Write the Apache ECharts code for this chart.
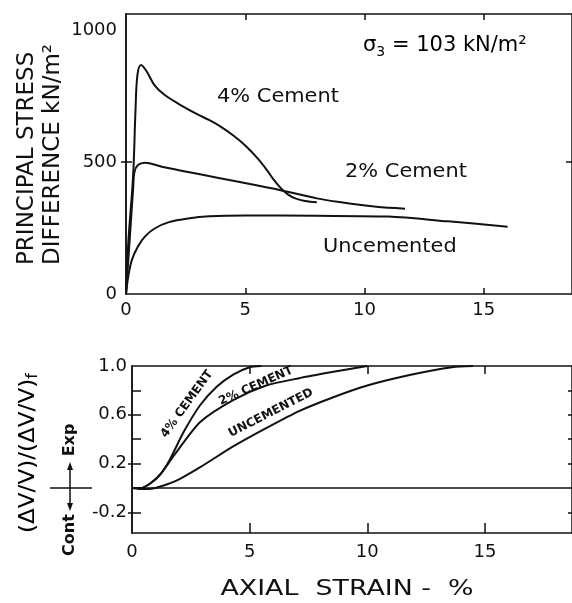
<!DOCTYPE html>
<html>
<head>
<meta charset="utf-8">
<script src="https://cdn.jsdelivr.net/npm/echarts@6/dist/echarts.min.js"></script>
<style>
  html, body { margin: 0; padding: 0; background: #fff; }
  #chart { width: 572px; height: 603px; }
</style>
</head>
<body>
<div id="chart"></div>
<script>
// top panel: principal stress difference (kN/m2) vs axial strain (%)
const stress4 = [[0,0],[0.1,200],[0.3,450],[0.4,700],[0.48,830],[0.63,867],[0.85,845],[1.2,790],[1.6,755],[2.2,720],[3.0,680],[3.5,658],[4.0,632],[4.5,600],[5.0,562],[5.5,515],[5.9,470],[6.2,432],[6.5,400],[6.8,376],[7.1,362],[7.5,352],[8.0,347]];
const stress2 = [[0,0],[0.15,200],[0.3,400],[0.35,460],[0.5,488],[0.8,497],[1.5,482],[3,455],[4.77,424],[6.44,394],[8,362],[8.95,348],[10.5,330],[11.7,323]];
const stressUn = [[0,0],[0.1,70],[0.25,130],[0.5,180],[0.8,218],[1.2,248],[1.8,272],[2.6,286],[3.5,294],[5,297],[8,296],[11,293],[13.5,275],[16,255]];

// bottom panel: normalised volume change vs axial strain (%)
const vol4 = [[0,0],[0.4,0],[0.8,0.04],[1.2,0.11],[1.6,0.23],[2.2,0.46],[2.9,0.68],[3.6,0.83],[4.3,0.93],[5,0.99],[5.5,1.0]];
const vol2 = [[0,0],[0.4,0],[0.8,0.04],[1.2,0.11],[1.8,0.27],[2.9,0.54],[4.3,0.72],[5.7,0.84],[7.1,0.9],[8.5,0.95],[10,1.0]];
const volUn = [[0,0],[0.5,-0.01],[1,0],[1.5,0.03],[2,0.07],[2.9,0.17],[4.3,0.34],[5.7,0.49],[7.1,0.63],[8.5,0.74],[10,0.84],[11.9,0.93],[13.6,0.99],[14.5,1.0]];

const strainLabels = [0, 5, 10, 15];
const strainTicks = [5, 10, 15];
const stressLabels = [0, 500, 1000];
const stressTicks = [500];
const volLabels = [-0.2, 0.2, 0.6, 1.0];
const volTicks = [-0.2, 0.2, 0.4, 0.6, 0.8];

const ink = "#111";
const FONT = "DejaVu Sans";

const frame = { show: true, onZero: false, lineStyle: { color: ink, width: 1.5 } };
const tickStyle = { color: ink, width: 1.5 };

function xAx(grid, pos, labels, tickLen, showLabel) {
  return {
    type: "value", gridIndex: grid, position: pos, min: 0, max: 18.7,
    axisLine: frame,
    axisTick: { show: true, inside: true, length: tickLen, customValues: strainTicks, lineStyle: tickStyle },
    axisLabel: { show: showLabel, customValues: labels, color: ink, fontFamily: FONT, fontSize: 18, margin: grid === 0 ? 7 : 10 },
    splitLine: { show: false },
  };
}

function yAx(grid, pos, min, max, ticks, inside, len, label) {
  return {
    type: "value", gridIndex: grid, position: pos, min: min, max: max,
    axisLine: frame,
    axisTick: { show: true, inside: inside, length: len, customValues: ticks, lineStyle: tickStyle },
    axisLabel: label || { show: false },
    splitLine: { show: false },
  };
}

function line(data, xi, yi, smooth) {
  return {
    type: "line", data: data, xAxisIndex: xi, yAxisIndex: yi,
    showSymbol: false, smooth: smooth, silent: true,
    lineStyle: { color: ink, width: 2 },
  };
}

function note(text, x, y, size, rot, opts) {
  return Object.assign({
    type: "text", x: x, y: y, rotation: (rot || 0) * Math.PI / 180,
    style: { text: text, font: size + "px " + FONT, fill: ink, textAlign: "left", textVerticalAlign: "middle" },
  }, opts || {});
}

const chart = echarts.init(document.getElementById("chart"));

chart.setOption({
  animation: false,
  backgroundColor: "#fff",
  grid: [
    { left: 126, top: 14, width: 447, height: 280 },
    { left: 132, top: 366, width: 441, height: 167 },
  ],
  xAxis: [
    xAx(0, "bottom", strainLabels, 6, true),
    xAx(0, "top", strainLabels, 6, false),
    xAx(1, "bottom", strainLabels, 10, true),
    xAx(1, "top", strainLabels, 8, false),
  ],
  yAxis: [
    yAx(0, "left", 0, 1060, stressTicks, true, 6, {
      customValues: stressLabels, color: ink, fontFamily: FONT, fontSize: 18, margin: 9,
      formatter: (v) => String(v),
    }),
    yAx(0, "right", 0, 1060, stressTicks, true, 6),
    yAx(1, "left", -0.37, 1.0, volTicks, true, 9, {
      customValues: volLabels, color: ink, fontFamily: FONT, fontSize: 18, margin: 5,
      formatter: (v) => v.toFixed(1),
    }),
    yAx(1, "right", -0.37, 1.0, volTicks, true, 4),
    // short outer ticks crossing the left axes
    yAx(0, "left", 0, 1060, stressTicks, false, 5),
    yAx(1, "left", -0.37, 1.0, [-0.2, 0.2, 0.6], false, 4),
  ],
  series: [
    line(stress4, 0, 0, 0.35),
    line(stress2, 0, 0, 0.3),
    line(stressUn, 0, 0, 0.3),
    line(vol4, 2, 2, 0.25),
    line(vol2, 2, 2, 0.25),
    Object.assign(line(volUn, 2, 2, 0.25), {
      markLine: {
        silent: true, symbol: "none", label: { show: false },
        lineStyle: { color: ink, width: 1.5, type: "solid" },
        data: [{ yAxis: 0 }],
      },
    }),
  ],
  graphic: [
    // axis titles
    note("PRINCIPAL STRESS", 27, 265, 23, 90),
    note("DIFFERENCE kN/m²", 53, 265, 23, 90),
    { type: "text", x: 28, y: 533, rotation: Math.PI / 2, scaleX: 1.05,
      style: { text: "{a|(ΔV/V)/(ΔV/V)}{f|f}", textAlign: "left", textVerticalAlign: "middle",
        rich: { a: { fontFamily: FONT, fontSize: 22, color: ink }, f: { fontFamily: FONT, fontSize: 15, color: ink, padding: [11, 0, 0, 0] } } } },
    { type: "text", x: 70, y: 440, rotation: Math.PI / 2,
      style: { text: "Exp", font: "bold 16px " + FONT, fill: ink, textAlign: "center", textVerticalAlign: "middle" } },
    { type: "text", x: 70, y: 535, rotation: Math.PI / 2,
      style: { text: "Cont", font: "bold 16px " + FONT, fill: ink, textAlign: "center", textVerticalAlign: "middle" } },
    // expansion / contraction cross
    { type: "line", shape: { x1: 50, y1: 488, x2: 92, y2: 488 }, style: { stroke: ink, lineWidth: 1.5 } },
    { type: "line", shape: { x1: 70, y1: 468, x2: 70, y2: 506 }, style: { stroke: ink, lineWidth: 1.5 } },
    { type: "polygon", shape: { points: [[70, 462], [67, 470], [73, 470]] }, style: { fill: ink } },
    { type: "polygon", shape: { points: [[70, 511], [67, 503], [73, 503]] }, style: { fill: ink } },
    // x axis title
    { type: "text", x: 347, y: 589, scaleX: 1.22,
      style: { text: "AXIAL  STRAIN -  %", font: "22px " + FONT, fill: ink, textAlign: "center", textVerticalAlign: "middle" } },
    // top panel notes
    { type: "text", x: 363, y: 46,
      style: { text: "{a|σ}{s|3}{a| = 103 kN/m²}", textAlign: "left", textVerticalAlign: "middle",
        rich: { a: { fontFamily: FONT, fontSize: 21, color: ink }, s: { fontFamily: FONT, fontSize: 14, color: ink, padding: [12, 0, 0, 0] } } } },
    note("4% Cement", 217, 97, 19, 0, { scaleX: 1.1 }),
    note("2% Cement", 345, 172, 19, 0, { scaleX: 1.1 }),
    note("Uncemented", 323, 247, 19, 0, { scaleX: 1.1 }),
    // bottom panel curve labels
    { type: "text", x: 187, y: 404, rotation: 54 * Math.PI / 180,
      style: { text: "4% CEMENT", font: "bold 12px " + FONT, fill: ink, textAlign: "center", textVerticalAlign: "middle" } },
    { type: "text", x: 256, y: 386, rotation: 24 * Math.PI / 180,
      style: { text: "2% CEMENT", font: "bold 12px " + FONT, fill: ink, textAlign: "center", textVerticalAlign: "middle" } },
    { type: "text", x: 271, y: 413, rotation: 27 * Math.PI / 180,
      style: { text: "UNCEMENTED", font: "bold 12px " + FONT, fill: ink, textAlign: "center", textVerticalAlign: "middle" } },
  ],
});
</script>
</body>
</html>
